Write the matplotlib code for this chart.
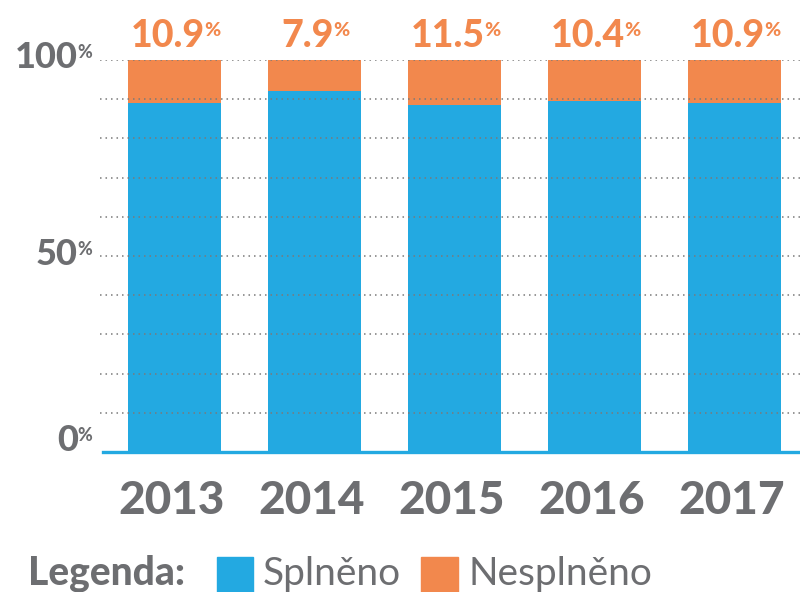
import matplotlib
matplotlib.use("Agg")
import matplotlib.pyplot as plt
from matplotlib.patches import Rectangle

# data
years = ["2013", "2014", "2015", "2016", "2017"]
nesplneno = [10.9, 7.9, 11.5, 10.4, 10.9]
splneno = [100 - v for v in nesplneno]
yticks = [0, 50, 100]

blue = "#23a9e1"
orange = "#f2884d"
gray = "#6d6e71"
plt.rcParams['font.family'] = ['Lato', 'DejaVu Sans']

fig = plt.figure(figsize=(8, 5.92), dpi=100)
ax = fig.add_axes([100/800, 140/592, 700/800, 392/592])

x = list(range(len(years)))
ax.bar(x, splneno, width=0.664, color=blue, zorder=1)
ax.bar(x, nesplneno, width=0.664, bottom=splneno, color=orange, zorder=1)

# dotted grid on top of bars
for g in range(10, 101, 10):
    ax.axhline(g, color="#7a7a7a", lw=1.1, ls=(0, (1, 2.6)), zorder=3)
ax.axhline(0, xmin=3/700, color=blue, lw=2.4, zorder=4, clip_on=False)

ax.set_xlim(-0.532, 4.468)
ax.set_ylim(0, 100)
ax.axis("off")

# y labels with small raised %
dy = {0: 8, 50: 1, 100: 2}
for t in yticks:
    num = ax.annotate(str(t), xy=(0, t), xycoords=("axes fraction", "data"),
                      xytext=(-16, dy[t]), textcoords="offset points",
                      ha="right", va="center", fontsize=26, fontweight="black",
                      color=gray)
    ax.annotate("%", xy=(1, 1), xycoords=num, xytext=(0, -2),
                textcoords="offset points", ha="left", va="top",
                fontsize=13, fontweight="black", color=gray)

# percentage labels above bars
for i, v in enumerate(nesplneno):
    num = ax.annotate(f"{v}", xy=(i, 100), xytext=(-5, 9.5),
                      textcoords="offset points", ha="center", va="baseline",
                      fontsize=27, fontweight="black", color=orange,
                      annotation_clip=False)
    ax.annotate("%", xy=(1, 1), xycoords=num, xytext=(0, -2),
                textcoords="offset points", ha="left", va="top",
                fontsize=14, fontweight="black", color=orange)

# year labels
for i, y in enumerate(years):
    ax.annotate(y, xy=(i, 0), xytext=(-2, -45), textcoords="offset points",
                ha="center", va="baseline", fontsize=33, fontweight="black",
                color=gray, annotation_clip=False)

# legend
fig.text(28/800, 7/592, "Legenda:", fontsize=28, fontweight="black",
         color=gray, va="baseline", ha="left")
fig.patches.append(Rectangle((217/800, 0), 36/800, 35/592, color=blue,
                             transform=fig.transFigure, figure=fig))
fig.text(263/800, 7/592, "Splněno", fontsize=28, color=gray,
         va="baseline", ha="left")
fig.patches.append(Rectangle((421/800, 0), 37/800, 35/592, color=orange,
                             transform=fig.transFigure, figure=fig))
fig.text(468/800, 7/592, "Nesplněno", fontsize=28, color=gray,
         va="baseline", ha="left")

fig.savefig("out.png", dpi=100)
